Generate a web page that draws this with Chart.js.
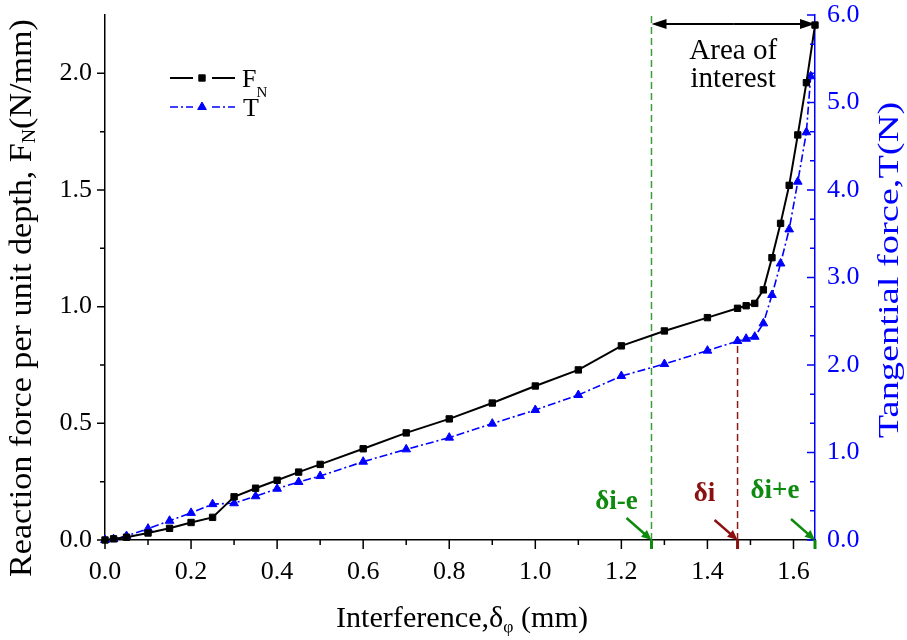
<!DOCTYPE html>
<html>
<head>
<meta charset="utf-8">
<script src="https://cdn.jsdelivr.net/npm/chart.js@4.4.1/dist/chart.umd.min.js"></script>
<style>
  html, body { margin: 0; padding: 0; background: #fff; }
  #wrap { width: 907px; height: 640px; }
</style>
</head>
<body>
<div id="wrap"><canvas id="chart" width="907" height="640"></canvas></div>
<script>
const serif = "'Liberation Serif', 'Times New Roman', serif";

// interference (mm)
const interference = [0, 0.02, 0.05, 0.1, 0.15, 0.2, 0.25, 0.3, 0.35, 0.4, 0.45, 0.5, 0.6, 0.7, 0.8, 0.9, 1.0,
  1.1, 1.2, 1.3, 1.4, 1.47, 1.49, 1.51, 1.53, 1.55, 1.57, 1.59, 1.61, 1.63, 1.65];
const interferenceT = [0, 0.02, 0.05, 0.1, 0.15, 0.2, 0.25, 0.3, 0.35, 0.4, 0.45, 0.5, 0.6, 0.7, 0.8, 0.9, 1.0,
  1.1, 1.2, 1.3, 1.4, 1.47, 1.49, 1.51, 1.53, 1.55, 1.57, 1.59, 1.61, 1.63, 1.64];
// F_N (N/mm), left axis
const reactionForce = [0, 0.005, 0.012, 0.03, 0.05, 0.075, 0.097, 0.185, 0.222, 0.256, 0.291, 0.324, 0.391,
  0.459, 0.519, 0.587, 0.66, 0.729, 0.832, 0.896, 0.953, 0.993, 1.004, 1.014, 1.072, 1.21, 1.357, 1.52,
  1.736, 1.96, 2.207];
// T (N), right axis
const tangentialForce = [0, 0.01, 0.046, 0.13, 0.22, 0.31, 0.41, 0.42, 0.50, 0.586, 0.663, 0.731, 0.895,
  1.036, 1.17, 1.33, 1.486, 1.657, 1.874, 2.011, 2.164, 2.274, 2.30, 2.323, 2.476, 2.80, 3.16, 3.55,
  4.095, 4.66, 5.3];

const markerValues = [1.27, 1.47, 1.65];
const markerLabels = ['δi-e', 'δi', 'δi+e'];
const markerColors = ['#0e8a0e', '#8b1111', '#0e8a0e'];
const areaLabel = ['Area of', 'interest'];

function toPoints(xs, ys) {
  return xs.map((x, i) => ({ x: x, y: ys[i] }));
}

// draw a row of text pieces (for subscripts), centred on cx; stretch widens along the text
function drawRuns(ctx, runs, cx, baseY, color, align, stretch) {
  stretch = stretch || 1;
  let total = 0;
  runs.forEach(r => {
    ctx.font = (r.bold ? 'bold ' : '') + r.size + 'px ' + serif;
    r.w = ctx.measureText(r.text).width;
    total += r.w;
  });
  ctx.save();
  ctx.translate(cx, baseY);
  ctx.scale(stretch, 1);
  let pos = align === 'left' ? 0 : -total / 2;
  ctx.fillStyle = color;
  ctx.textAlign = 'left';
  ctx.textBaseline = 'alphabetic';
  runs.forEach(r => {
    ctx.font = (r.bold ? 'bold ' : '') + r.size + 'px ' + serif;
    ctx.fillText(r.text, pos, r.dy || 0);
    pos += r.w;
  });
  ctx.restore();
}

function arrowHead(ctx, x1, y1, x2, y2, len, half) {
  const a = Math.atan2(y2 - y1, x2 - x1);
  ctx.beginPath();
  ctx.moveTo(x2, y2);
  ctx.lineTo(x2 - len * Math.cos(a) + half * Math.sin(a), y2 - len * Math.sin(a) - half * Math.cos(a));
  ctx.lineTo(x2 - len * Math.cos(a) - half * Math.sin(a), y2 - len * Math.sin(a) + half * Math.cos(a));
  ctx.closePath();
  ctx.fill();
}

function arrow(ctx, x1, y1, x2, y2, color, width, len, half) {
  const a = Math.atan2(y2 - y1, x2 - x1);
  ctx.strokeStyle = color;
  ctx.fillStyle = color;
  ctx.lineWidth = width;
  ctx.beginPath();
  ctx.moveTo(x1, y1);
  ctx.lineTo(x2 - (len - 1) * Math.cos(a), y2 - (len - 1) * Math.sin(a));
  ctx.stroke();
  arrowHead(ctx, x1, y1, x2, y2, len, half);
}

function axisTicks(ctx, scale, values, len, side, color) {
  ctx.strokeStyle = color;
  ctx.lineWidth = 1.5;
  ctx.beginPath();
  values.forEach(v => {
    const p = scale.getPixelForValue(v);
    if (side === 'down') { ctx.moveTo(p, scale.top); ctx.lineTo(p, scale.top + len); }
    if (side === 'left') { ctx.moveTo(scale.right, p); ctx.lineTo(scale.right - len, p); }
    if (side === 'inLeft') { ctx.moveTo(scale.left, p); ctx.lineTo(scale.left - len, p); }
  });
  ctx.stroke();
}

// fixed box sizes so the plot area sits where it does in the figure
function fixBox(size) {
  return s => {
    if (s.isHorizontal()) s.height = size; else s.width = size;
    s.paddingTop = 0; s.paddingBottom = 0; s.paddingLeft = 0; s.paddingRight = 0;
  };
}

const figurePlugin = {
  id: 'figure',
  beforeDatasetsDraw(chart) {
    const { ctx, chartArea, scales } = chart;
    ctx.save();
    ctx.lineWidth = 1.5;
    ctx.setLineDash([7, 4]);
    ctx.strokeStyle = '#3c9c3c';
    const xg = scales.x.getPixelForValue(markerValues[0]);
    ctx.beginPath();
    ctx.moveTo(xg, chartArea.bottom);
    ctx.lineTo(xg, chartArea.top);
    ctx.stroke();
    const idx = interferenceT.indexOf(markerValues[1]);
    const xr = scales.x.getPixelForValue(markerValues[1]);
    ctx.strokeStyle = '#8b1a1a';
    ctx.beginPath();
    ctx.moveTo(xr, chartArea.bottom);
    ctx.lineTo(xr, scales.y2.getPixelForValue(tangentialForce[idx]));
    ctx.stroke();
    ctx.restore();
  },
  afterDraw(chart) {
    const { ctx, chartArea, scales } = chart;
    const x = scales.x, y = scales.y, y2 = scales.y2;
    ctx.save();

    // ticks
    const xMajor = [], xMinor = [], yMajor = [], yMinor = [], rMajor = [], rMinor = [];
    for (let i = 0; i <= 16; i++) (i % 2 ? xMinor : xMajor).push(i / 10);
    for (let i = 0; i <= 8; i++) (i % 2 ? yMinor : yMajor).push(i / 4);
    for (let i = 0; i <= 18; i++) (i % 3 ? rMinor : rMajor).push(i / 3);
    axisTicks(ctx, x, xMajor, 9, 'down', '#000');
    axisTicks(ctx, x, xMinor, 5, 'down', '#000');
    axisTicks(ctx, y, yMajor, 8, 'left', '#000');
    axisTicks(ctx, y, yMinor, 5, 'left', '#000');
    axisTicks(ctx, y2, rMajor, 8, 'inLeft', '#0000ff');
    axisTicks(ctx, y2, rMinor, 5, 'inLeft', '#0000ff');

    // axis titles
    drawRuns(ctx, [
      { text: 'Interference,δ', size: 29 },
      { text: 'φ', size: 17, dy: 5 },
      { text: ' (mm)', size: 29 }
    ], 462, 627, '#000', 'center', 1.04);

    ctx.save();
    ctx.translate(31, 298);
    ctx.rotate(-Math.PI / 2);
    drawRuns(ctx, [
      { text: 'Reaction force per unit depth, F', size: 31 },
      { text: 'N', size: 18, dy: 4 },
      { text: '(N/mm)', size: 31 }
    ], 0, 0, '#000', 'center', 1.1);
    ctx.restore();

    ctx.save();
    ctx.translate(898, 270);
    ctx.rotate(-Math.PI / 2);
    drawRuns(ctx, [{ text: 'Tangential force,T(N)', size: 30 }], 0, 0, '#0000ff', 'center', 1.28);
    ctx.restore();

    // legend
    const ds = chart.data.datasets;
    const legendRows = [78, 107];
    ds.forEach((d, i) => {
      const ly = legendRows[i];
      ctx.save();
      ctx.strokeStyle = d.borderColor;
      ctx.lineWidth = d.borderWidth;
      ctx.setLineDash(d.borderDash || []);
      ctx.beginPath();
      ctx.moveTo(170, ly); ctx.lineTo(193, ly);
      ctx.moveTo(212, ly); ctx.lineTo(235, ly);
      ctx.stroke();
      ctx.restore();
      ctx.fillStyle = d.backgroundColor;
      ctx.strokeStyle = d.borderColor;
      ctx.lineWidth = 1;
      Chart.helpers.drawPoint(ctx, {
        pointStyle: d.pointStyle, radius: d.pointRadius, borderWidth: 1, rotation: 0
      }, 202, ly);
    });
    drawRuns(ctx, [{ text: 'F', size: 26 }, { text: 'N', size: 15, dy: 10 }], 242, 87, '#000', 'left');
    drawRuns(ctx, [{ text: 'T', size: 26 }], 243, 116, '#000', 'left');

    // area of interest
    const xa = x.getPixelForValue(markerValues[0]);
    const xb = x.getPixelForValue(markerValues[2]);
    const ay = chartArea.top + 9;
    arrow(ctx, (xa + xb) / 2, ay, xb, ay, '#000', 2, 15, 5);
    arrow(ctx, (xa + xb) / 2, ay, xa, ay, '#000', 2, 15, 5);
    drawRuns(ctx, [{ text: areaLabel[0], size: 29 }], (xa + xb) / 2, 59, '#000');
    drawRuns(ctx, [{ text: areaLabel[1], size: 29 }], (xa + xb) / 2, 87, '#000');

    // δ markers on the x axis
    const labelDx = [-35, -33, -40];
    const labelY = [509, 501, 498];
    const startDx = [-25, -23, -24];
    const startDy = [-22, -20, -21];
    markerValues.forEach((v, i) => {
      const px = x.getPixelForValue(v);
      const py = chartArea.bottom;
      ctx.strokeStyle = markerColors[i];
      ctx.lineWidth = 3;
      ctx.beginPath();
      ctx.moveTo(px, py); ctx.lineTo(px, py + 9);
      ctx.stroke();
      arrow(ctx, px + startDx[i], py + startDy[i], px, py, markerColors[i], 2.5, 10, 4.5);
      drawRuns(ctx, [{ text: markerLabels[i], size: 27, bold: true }], px + labelDx[i], labelY[i], markerColors[i]);
    });

    ctx.restore();
  }
};

const tickFont = { family: serif, size: 26 };

new Chart(document.getElementById('chart'), {
  type: 'scatter',
  data: {
    datasets: [
      {
        label: 'FN',
        data: toPoints(interference, reactionForce),
        yAxisID: 'y',
        showLine: true,
        borderColor: '#000',
        backgroundColor: '#000',
        borderWidth: 2,
        pointStyle: 'rect',
        pointRadius: 4.5,
        pointBorderWidth: 1,
        clip: false
      },
      {
        label: 'T',
        data: toPoints(interferenceT, tangentialForce),
        yAxisID: 'y2',
        showLine: true,
        borderColor: '#0000ff',
        backgroundColor: '#0000ff',
        borderWidth: 1.6,
        borderDash: [8, 3, 2, 3],
        pointStyle: 'triangle',
        pointRadius: 5,
        pointBorderWidth: 1,
        clip: false
      }
    ]
  },
  options: {
    responsive: false,
    animation: false,
    devicePixelRatio: 1,
    layout: { padding: { top: 15, left: 0, right: 0, bottom: 0 } },
    plugins: { legend: { display: false }, tooltip: { enabled: false } },
    scales: {
      x: {
        type: 'linear',
        position: 'bottom',
        min: 0,
        max: 1.65,
        afterFit: fixBox(100),
        border: { display: true, color: '#000', width: 1.5 },
        grid: { display: true, drawOnChartArea: false, drawTicks: true, tickLength: 9, color: 'rgba(0,0,0,0)' },
        ticks: {
          stepSize: 0.2, includeBounds: false, padding: 8, color: '#000', font: tickFont,
          maxRotation: 0, autoSkip: false, callback: v => v.toFixed(1)
        }
      },
      y: {
        type: 'linear',
        position: 'left',
        min: 0,
        max: 2.25,
        afterFit: fixBox(105),
        border: { display: true, color: '#000', width: 1.5 },
        grid: { display: true, drawOnChartArea: false, drawTicks: true, tickLength: 8, color: 'rgba(0,0,0,0)' },
        ticks: {
          stepSize: 0.5, includeBounds: false, padding: 5, color: '#000', font: tickFont,
          callback: v => v.toFixed(1)
        }
      },
      y2: {
        type: 'linear',
        position: 'right',
        min: 0,
        max: 6,
        afterFit: fixBox(92),
        border: { display: true, color: '#0000ff', width: 1.5 },
        grid: { display: true, drawOnChartArea: false, drawTicks: false, color: 'rgba(0,0,0,0)' },
        ticks: {
          stepSize: 1, includeBounds: false, padding: 12, color: '#0000ff', font: tickFont,
          callback: v => v.toFixed(1)
        }
      }
    }
  },
  plugins: [figurePlugin]
});
</script>
</body>
</html>
